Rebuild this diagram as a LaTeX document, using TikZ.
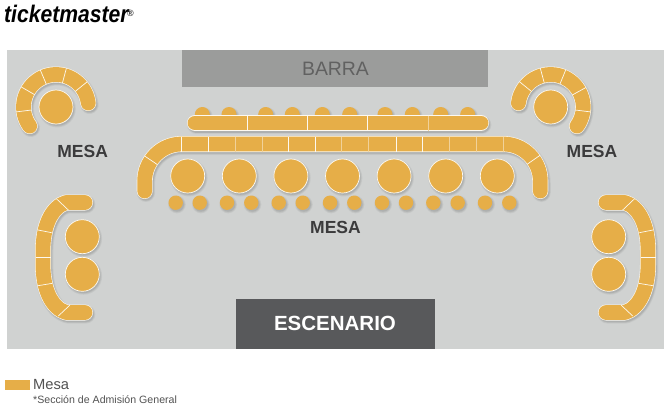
\documentclass[tikz,border=0pt]{standalone}
\usepackage{fontspec}
\setmainfont{Liberation Sans}
\definecolor{mesa}{HTML}{E6AE48}
\definecolor{panel}{HTML}{D0D2D1}
\definecolor{barra}{HTML}{9B9C9B}
\definecolor{stage}{HTML}{58595B}
\definecolor{label}{HTML}{3B3B3C}
\tikzset{
  soft1/.style={draw=black,draw opacity=.04,line cap=round,line join=round,line width=18.5pt},
  soft2/.style={draw=black,draw opacity=.05,line cap=round,line join=round,line width=17pt},
  soft3/.style={draw=black,draw opacity=.07,line cap=round,line join=round,line width=15.5pt},
  rim/.style={draw=white!92!mesa,line cap=round,line join=round,line width=16pt},
  core/.style={draw=mesa,line cap=round,line join=round,line width=14.8pt},
  seam/.style={draw=white!92!mesa,line width=.7pt},
  faintseam/.style={draw=white!45!mesa,line width=.7pt},
  title/.style={font=\bfseries\fontsize{17.5}{18}\selectfont,text=label,inner sep=0pt},
  txt/.style={inner sep=0pt,anchor=west,text=black!68}
}
\newcommand{\tablepiece}[1]{%
  \begin{scope}[shift={(1.2,1.8)}]
    \draw[soft1] #1; \draw[soft2] #1; \draw[soft3] #1;
  \end{scope}
  \draw[rim] #1; \draw[core] #1;}
\newcommand{\disc}[3]{%
  \fill[black,opacity=.04] (#1+1.2,#2+1.8) circle[radius=#3+1.7pt];
  \fill[black,opacity=.05] (#1+1.2,#2+1.8) circle[radius=#3+.9pt];
  \fill[black,opacity=.07] (#1+1.2,#2+1.8) circle[radius=#3];
  \fill[mesa,draw=white!92!mesa,line width=.7pt] (#1,#2) circle[radius=#3];}
\newcommand{\smalldisc}[3]{%
  \fill[black,opacity=.04] (#1+1.2,#2+1.8) circle[radius=#3+1.7pt];
  \fill[black,opacity=.05] (#1+1.2,#2+1.8) circle[radius=#3+.9pt];
  \fill[black,opacity=.07] (#1+1.2,#2+1.8) circle[radius=#3];
  \fill[mesa] (#1,#2) circle[radius=#3];}
\newcommand{\radial}[5][seam]{\draw[#1] (#2,#3) ++(#4:#5pt) -- ++(#4:15.5pt);}
\begin{document}
\begin{tikzpicture}[x=1pt,y=-1pt]
\useasboundingbox (0,0) rectangle (670,410);
\fill[white] (0,0) rectangle (670,410);
% panel, bar, stage
\fill[panel] (7,50) rectangle (664,348.5);
\fill[barra] (182,50) rectangle (488,87);
\fill[stage] (236,298.5) rectangle (435,348.5);
\node[inner sep=0pt,text=black!62,font=\fontsize{19.4}{20}\selectfont] (barratxt) at (335.5,69) {BARRA};
\node[inner sep=0pt,text=white,font=\bfseries\fontsize{20.5}{21}\selectfont] (escenario) at (335,323.5) {ESCENARIO};
% top left arc table
\tablepiece{(56,107) ++(216:32.5pt) arc[start angle=216,end angle=7,radius=32.5pt]}
\foreach \a in {187,150,113,75,39} {\radial{56}{107}{\a}{24.7}}
\disc{56}{107}{17pt}
% top right arc table
\tablepiece{(550.7,107) ++(-36:32.5pt) arc[start angle=-36,end angle=173,radius=32.5pt]}
\foreach \a in {-7,29,68,105,141} {\radial{550.7}{107}{\a}{24.7}}
\disc{550.7}{107}{17pt}
% seats behind upper bar
\foreach \x in {202.3,229,265.7,292.3,322.3,349.7,385,412.3,440.7,467.7} {\smalldisc{\x}{114.5}{7.5pt}}
% upper bar
\tablepiece{(195,123) -- (481,123)}
\foreach \x in {247.3,307.3,367.7} {\draw[seam] (\x,115.5) -- (\x,130.5);}
\draw[faintseam] (428.3,115.5) -- (428.3,130.5);
% main long table
\tablepiece{(144.7,191) -- (144.7,181) arc[start angle=180,end angle=90,radius=37pt] -- (503.3,144) arc[start angle=90,end angle=0,radius=37pt] -- (540.3,191)}
\foreach \x in {181.7,208.5,288.1,314.9,395.9,422.7} {\draw[seam] (\x,136.5) -- (\x,151.5);}
\foreach \x in {235.3,262.1,341.7,368.5,449.5,476.3,503.3} {\draw[faintseam] (\x,136.5) -- (\x,151.5);}
\radial{181.7}{181}{146}{29.3}
\radial{503.3}{181}{35}{29.3}
% big discs
\foreach \x in {187.7,239.3,290.9,342.5,394.1,445.7,497.3} {\disc{\x}{176}{17pt}}
% small discs
\foreach \x in {175.7,199.7,227,251.3,278.7,302.7,330,354.3,382,406,433.3,457.7,485,509.3} {\smalldisc{\x}{202.7}{7.2pt}}
% left C table
\tablepiece{(85,202.5) -- (66,202.5) .. controls (52,207) and (43,225) .. (43,250) -- (43,265) .. controls (43,290) and (52,308) .. (66,312.5) -- (85,312.5)}
\draw[seam] (56.7,199) -- (68.3,210);
\draw[seam] (38,230) -- (51.7,232.7);
\draw[seam] (35.5,257) -- (50.5,257);
\draw[seam] (38,285.7) -- (52.3,283.3);
\draw[seam] (58.3,316) -- (70,305);
\disc{82.3}{236.7}{17pt}
\disc{82.3}{274.3}{17pt}
% right C table
\tablepiece{(606,202.5) -- (625,202.5) .. controls (639,207) and (648,225) .. (648,250) -- (648,265) .. controls (648,290) and (639,308) .. (625,312.5) -- (606,312.5)}
\draw[seam] (634.3,199) -- (622.7,210);
\draw[seam] (653,230) -- (639.3,232.7);
\draw[seam] (655.5,257) -- (640.5,257);
\draw[seam] (653,285.7) -- (638.7,283.3);
\draw[seam] (632.7,316) -- (621,305);
\disc{608.7}{236.7}{17pt}
\disc{608.7}{274.3}{17pt}
% labels
\node[title] (mesaleft) at (82.7,151) {MESA};
\node[title] (mesaright) at (592,151) {MESA};
\node[title] (mesamid) at (335.5,227) {MESA};
% logo
\node[inner sep=0pt,anchor=west,text=black,xscale=.88,font=\bfseries\itshape\fontsize{24}{25}\selectfont] (logo) at (4,14) {ticketmaster};
\node[inner sep=0pt,text=black!80,font=\bfseries\fontsize{9}{10}\selectfont] (reg) at (130.5,13) {®};
% legend
\fill[mesa] (5,380) rectangle (30,390);
\node[txt,font=\fontsize{14.7}{15}\selectfont] (legend) at (33,385) {Mesa};
\node[txt,font=\fontsize{10.6}{11}\selectfont] (note) at (33,399.5) {*Sección de Admisión General};
\end{tikzpicture}
\end{document}
